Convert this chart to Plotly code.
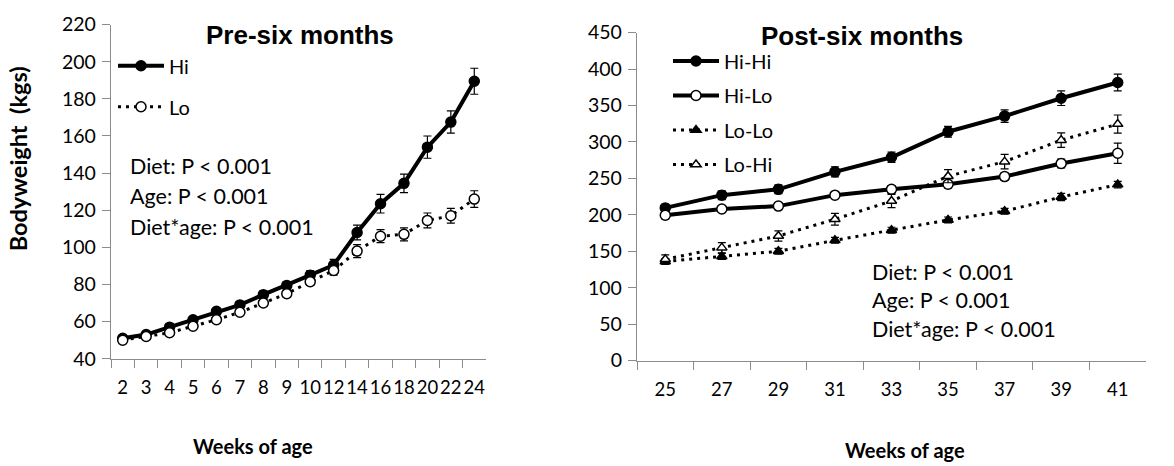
import plotly.graph_objects as go

W, H = 1174, 466

# ---------------- data ----------------
weeks_pre = ["2", "3", "4", "5", "6", "7", "8", "9", "10", "12", "14", "16", "18", "20", "22", "24"]
hi = [51, 53, 57, 61, 65.5, 69, 74.5, 79.5, 85, 90.5, 108, 123.5, 134.5, 154, 167.5, 189.5]
hi_err = [1.5, 1.5, 1.5, 1.5, 1.5, 1.5, 2, 2, 2.5, 3, 4, 5, 5, 6, 6, 7]
lo = [50, 52, 54, 57.5, 61, 65, 70, 75, 81.5, 87.5, 98, 106, 107, 114.5, 117, 126]
lo_err = [1, 1, 1.5, 1.5, 1.5, 1.5, 1.5, 2, 2, 2.5, 3.5, 3.5, 3.5, 4, 4, 4.5]

weeks_post = ["25", "27", "29", "31", "33", "35", "37", "39", "41"]
hihi = [209.5, 227, 235, 259, 279, 314, 335.5, 360, 381.5]
hihi_err = [5, 6, 6, 7, 7, 7.5, 8.5, 10, 11.5]
hilo = [199.5, 208, 212, 227, 235, 242, 252.5, 270.5, 284.5]
hilo_err = [5, 4, 4, 4, 5, 5, 5, 6, 14]
lolo = [136, 143, 150, 165, 179, 193, 205, 224.5, 241.5]
lolo_err = [4, 4, 4, 4, 4, 4, 4, 5, 4.5]
lohi = [139, 155, 171, 194, 219, 253, 273, 302.5, 324.5]
lohi_err = [6, 7, 7, 8, 9, 9, 10, 10, 12.5]

stats_text = ["Diet: P < 0.001", "Age: P < 0.001", "Diet*age: P < 0.001"]

# ---------------- helpers ----------------
def px(x):
    return x / W

def py(y):
    return 1 - y / H

FONT = "Lato"
TFONT = "Liberation Sans"
AXCOL = "#8c8c8c"

fig = go.Figure()

def add_series(x, y, err, name, xa, ya, legend, solid, filled, symbol, group):
    fig.add_trace(go.Scatter(
        x=x, y=y, name=name, xaxis=xa, yaxis=ya, legend=legend, legendgroup=group,
        mode="lines+markers",
        line=dict(color="black", width=4 if solid else 3, dash="solid" if solid else "3px,5px"),
        marker=dict(symbol=symbol, size=10 if "circle" in symbol else 9,
                    color="black" if filled else "white",
                    line=dict(color="black", width=1.5)),
        error_y=dict(type="data", array=err, visible=True, color="black", thickness=1.2, width=4),
    ))

add_series(weeks_pre, hi, hi_err, "Hi", "x", "y", "legend", True, True, "circle", "a")
add_series(weeks_pre, lo, lo_err, "Lo", "x", "y", "legend", False, False, "circle", "b")

add_series(weeks_post, hihi, hihi_err, "Hi-Hi", "x2", "y2", "legend2", True, True, "circle", "c")
add_series(weeks_post, hilo, hilo_err, "Hi-Lo", "x2", "y2", "legend2", True, False, "circle", "d")
add_series(weeks_post, lolo, lolo_err, "Lo-Lo", "x2", "y2", "legend2", False, True, "triangle-up", "e")
add_series(weeks_post, lohi, lohi_err, "Lo-Hi", "x2", "y2", "legend2", False, False, "triangle-up", "f")

# plot area geometry (pixels)
L1, R1, T1, B1 = 111, 486, 13.3, 364.7
L2, R2, T2, B2 = 637, 1146, 21.7, 366.7

xcommon = dict(type="category", tickson="boundaries", ticks="outside", ticklen=8,
               tickcolor=AXCOL, linecolor=AXCOL, linewidth=1.3, showline=True,
               showgrid=False, zeroline=False, tickangle=0, ticklabelstandoff=12,
               tickfont=dict(family=FONT, size=18.5, color="black"))
ycommon = dict(ticks="outside", ticklen=8, tickcolor=AXCOL, linecolor=AXCOL,
               linewidth=1.3, showline=True, showgrid=False, zeroline=False,
               ticklabelstandoff=2,
               tickfont=dict(family=FONT, size=19.5, color="black"))

fig.update_layout(
    width=W, height=H,
    margin=dict(l=0, r=0, t=0, b=0),
    paper_bgcolor="white", plot_bgcolor="white",
    xaxis=dict(domain=[px(L1), px(R1)], anchor="y", range=[-0.5, 15.5], **xcommon),
    yaxis=dict(domain=[py(B1), py(T1)], anchor="x", range=[40, 220], dtick=20, **ycommon),
    xaxis2=dict(domain=[px(L2), px(R2)], anchor="y2", range=[-0.5, 8.5], **xcommon),
    yaxis2=dict(domain=[py(B2), py(T2)], anchor="x2", range=[0, 450], dtick=50, **ycommon),
    legend=dict(x=px(113), y=py(36), xanchor="left", yanchor="top",
                bgcolor="rgba(0,0,0,0)", borderwidth=0, itemwidth=46,
                traceorder="grouped", tracegroupgap=12,
                font=dict(family=FONT, size=20, color="black")),
    legend2=dict(x=px(668), y=py(31), xanchor="left", yanchor="top",
                 bgcolor="rgba(0,0,0,0)", borderwidth=0, itemwidth=46,
                 traceorder="grouped", tracegroupgap=5.5,
                 font=dict(family=FONT, size=20, color="black")),
    showlegend=True,
)

ann = []
# titles
ann.append(dict(text="<b>Pre-six months</b>", x=px(300), y=py(24), xref="paper", yref="paper",
                xanchor="center", yanchor="middle", showarrow=False,
                font=dict(family=TFONT, size=26, color="black")))
ann.append(dict(text="<b>Post-six months</b>", x=px(862), y=py(25), xref="paper", yref="paper",
                xanchor="center", yanchor="middle", showarrow=False,
                font=dict(family=TFONT, size=26, color="black")))
# axis titles
ann.append(dict(text="<b>Weeks of age</b>", x=px(253), y=py(457), xref="paper", yref="paper",
                xanchor="center", yanchor="middle", showarrow=False,
                font=dict(family=FONT, size=20, color="black")))
ann.append(dict(text="<b>Weeks of age</b>", x=px(905), y=py(461), xref="paper", yref="paper",
                xanchor="center", yanchor="middle", showarrow=False,
                font=dict(family=FONT, size=20, color="black")))
ann.append(dict(text="<b>Bodyweight  (kgs)</b>", x=px(18), y=py(155), xref="paper", yref="paper",
                xanchor="center", yanchor="middle", showarrow=False, textangle=-90,
                font=dict(family=FONT, size=23.5, color="black")))
# stats text
for i, t in enumerate(stats_text):
    ann.append(dict(text=t, x=px(128), y=py(162 + 32 * i), xref="paper", yref="paper",
                    xanchor="left", yanchor="middle", showarrow=False,
                    font=dict(family=FONT, size=21.5, color="black")))
    ann.append(dict(text=t, x=px(870), y=py(273 + 30 * i), xref="paper", yref="paper",
                    xanchor="left", yanchor="middle", showarrow=False,
                    font=dict(family=FONT, size=21.5, color="black")))
fig.update_layout(annotations=ann)

fig.write_html("out.html")
